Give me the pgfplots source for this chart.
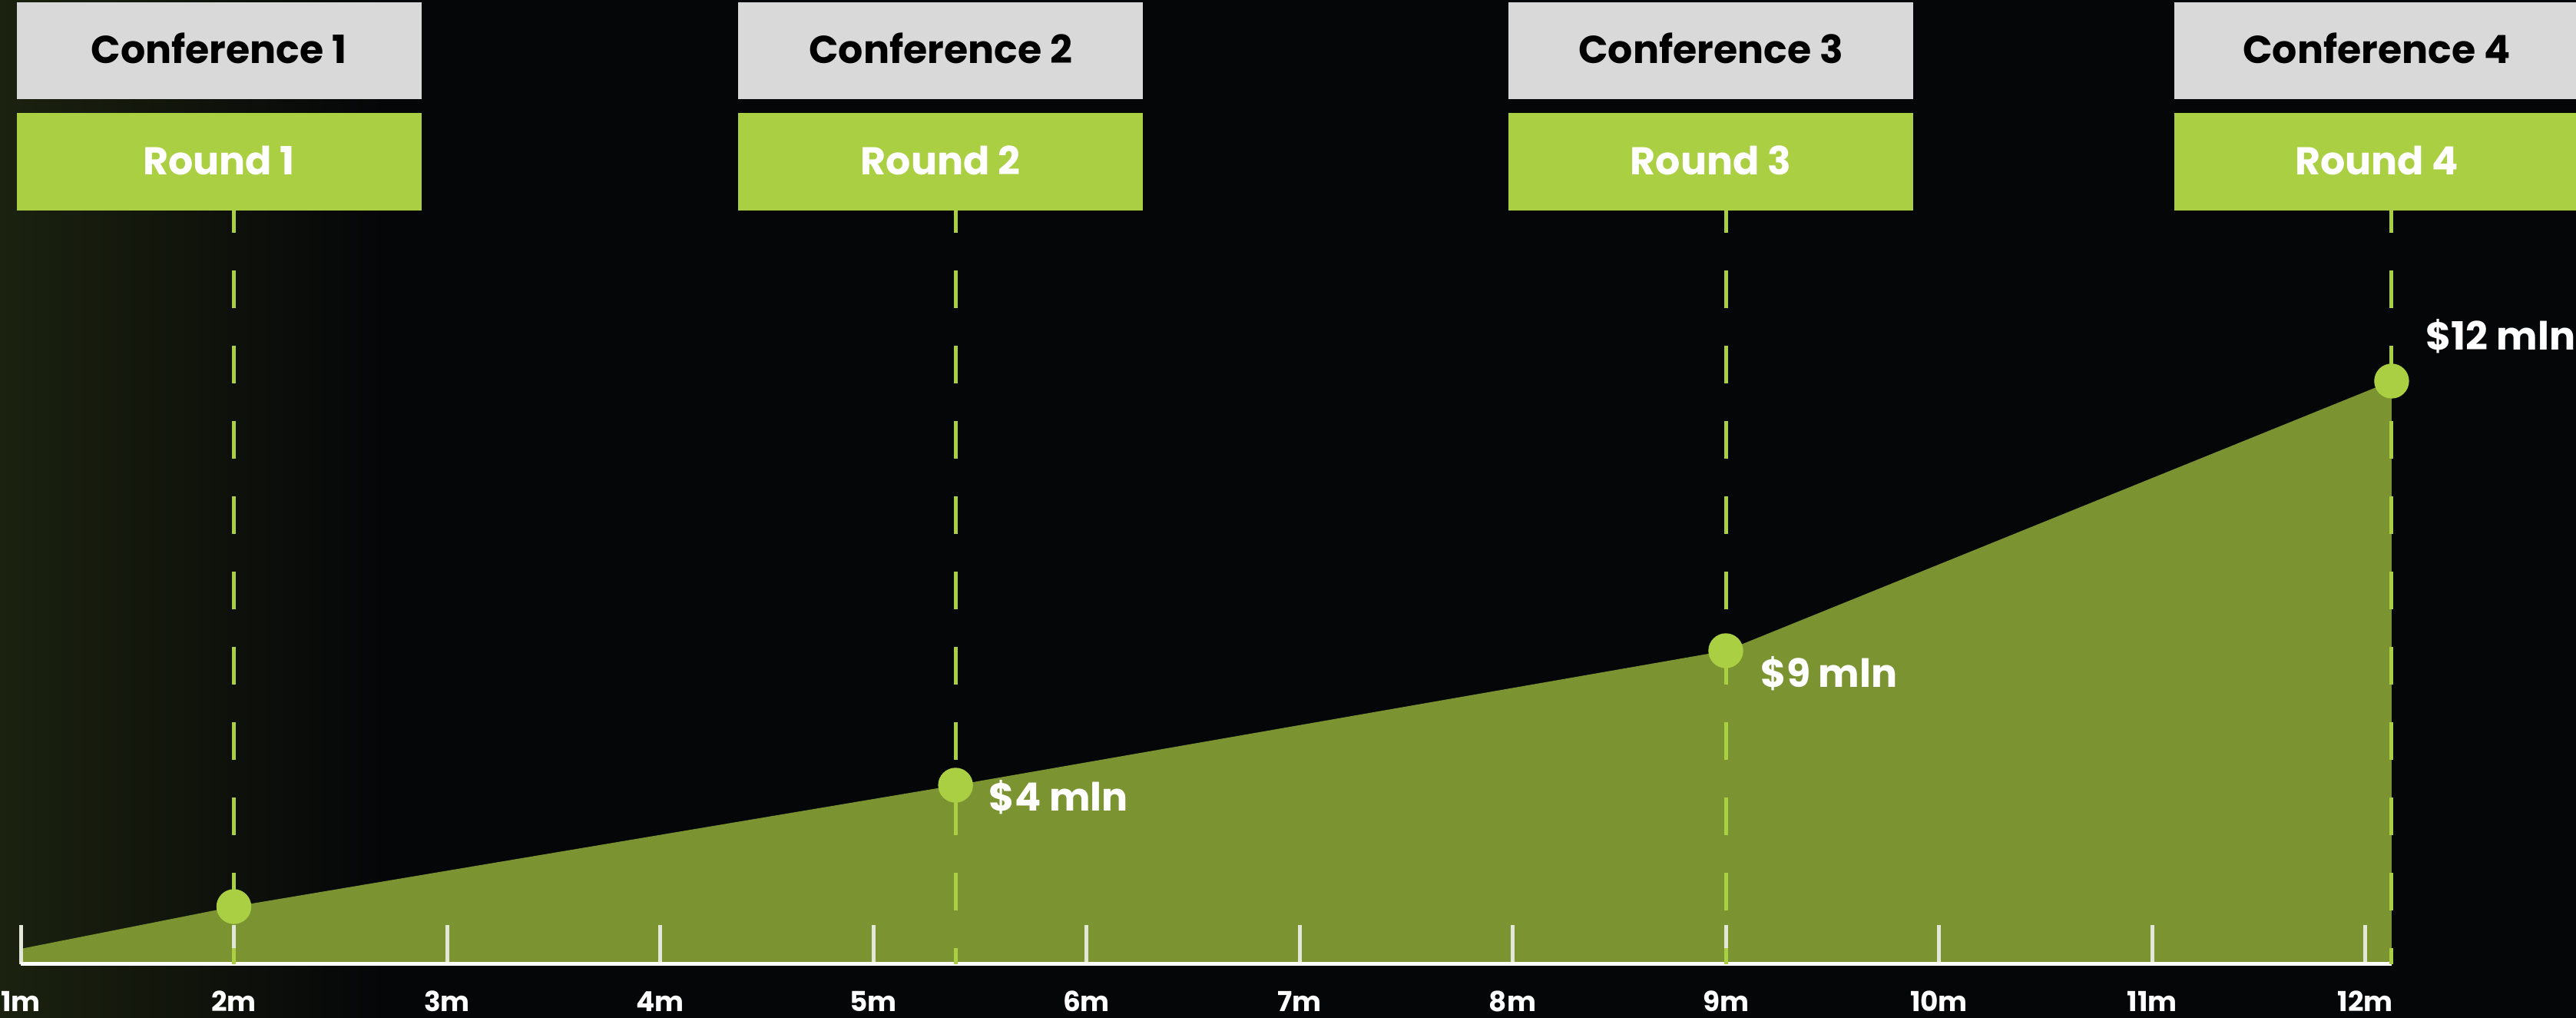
\documentclass[border=0pt]{standalone}
\usepackage{pgfplots}
\pgfplotsset{compat=1.18}
\usepackage{fontspec}
\setmainfont{Poppins}
\definecolor{bgblack}{HTML}{050608}
\definecolor{bgleft}{HTML}{1B220F}
\definecolor{areagreen}{HTML}{7B9331}
\definecolor{lime}{HTML}{AACF43}
\definecolor{boxgray}{HTML}{D9D9D9}
\definecolor{tickgray}{HTML}{E2E7DA}
\newcommand{\bigf}{\fontsize{14.4}{17}\selectfont\bfseries}
\begin{document}
\begin{tikzpicture}
\fill[bgblack] (0,0) rectangle (33.54,13.25);
\shade[left color=bgleft, right color=bgblack] (0,0) rectangle (5,13.25);
\begin{axis}[
  at={(0,0)}, anchor=south west,
  width=33.54cm, height=13.25cm, scale only axis,
  xmin=0.9027, xmax=12.9892, ymin=-70, ymax=1255,
  hide y axis,
  axis x line*=bottom,
  x axis line style={draw=none},
  xtick={1,2,3,4,5,6,7,8,9,10,11,12},
  xticklabels={1m,2m,3m,4m,5m,6m,7m,8m,9m,10m,11m,12m},
  major tick length=0pt,
  xtick style={draw=none},
  xticklabel style={anchor=base, inner sep=0pt, yshift=0.08cm,
    font=\fontsize{10.2}{12}\selectfont\bfseries, text=white},
  clip=false,
]
% area
\addplot[fill=areagreen, draw=none] coordinates {(1,0)(1,20)(2,75)(5.386,233)(9,408)(12.124,759)(12.124,0)};
% ticks
\addplot[ycomb, draw=tickgray, line width=0.05cm, mark=none] coordinates {(1,51)(2,51)(3,51)(4,51)(5,51)(6,51)(7,51)(8,51)(9,51)(10,51)(11,51)(12,51)};
% axis line
\addplot[draw=white, line width=0.05cm] coordinates {(1,0)(12.124,0)};
% dashed lines
\addplot[draw=lime, line width=0.05cm, dash pattern=on 0.49cm off 0.49cm, dash phase=0.2cm] coordinates {(2,981)(2,0)};
\addplot[draw=lime, line width=0.05cm, dash pattern=on 0.49cm off 0.49cm, dash phase=0.2cm] coordinates {(5.386,981)(5.386,0)};
\addplot[draw=lime, line width=0.05cm, dash pattern=on 0.49cm off 0.49cm, dash phase=0.2cm] coordinates {(9,981)(9,0)};
\addplot[draw=lime, line width=0.05cm, dash pattern=on 0.49cm off 0.49cm, dash phase=0.2cm] coordinates {(12.124,981)(12.124,0)};
% dots
\addplot[lime, only marks, mark=*, mark size=0.22cm, mark options={draw=lime, fill=lime, solid}] coordinates {(2,75)(5.386,233)(9,408)(12.124,759)};
% boxes
\foreach \m/\k in {2/1, 5.386/2, 9/3, 12.124/4} {
  \edef\tmp{
  \noexpand\fill[boxgray] ([xshift=-2.83cm]axis cs:\m,1126) rectangle ([xshift=2.44cm]axis cs:\m,1252);
  \noexpand\fill[lime] ([xshift=-2.83cm]axis cs:\m,981) rectangle ([xshift=2.44cm]axis cs:\m,1108);
  \noexpand\node[anchor=base, inner sep=0pt, text=black, font=\noexpand\bigf] at ([xshift=-0.195cm]axis cs:\m,1172) {Conference \k};
  \noexpand\node[anchor=base, inner sep=0pt, text=white, font=\noexpand\bigf] at ([xshift=-0.195cm]axis cs:\m,1027) {Round \k};
  }\tmp
}
% value labels
\node[anchor=base west, inner sep=0pt, text=white, font=\bigf] at ([xshift=0.43cm, yshift=-0.34cm]axis cs:5.386,233) {\$4 mln};
\node[anchor=base west, inner sep=0pt, text=white, font=\bigf] at ([xshift=0.45cm, yshift=-0.48cm]axis cs:9,408) {\$9 mln};
\node[anchor=base west, inner sep=0pt, text=white, font=\bigf] at ([xshift=0.44cm, yshift=0.40cm]axis cs:12.124,759) {\$12 mln};
\end{axis}
\pgfresetboundingbox
\useasboundingbox (0,0) rectangle (33.54,13.25);
\end{tikzpicture}
\end{document}
